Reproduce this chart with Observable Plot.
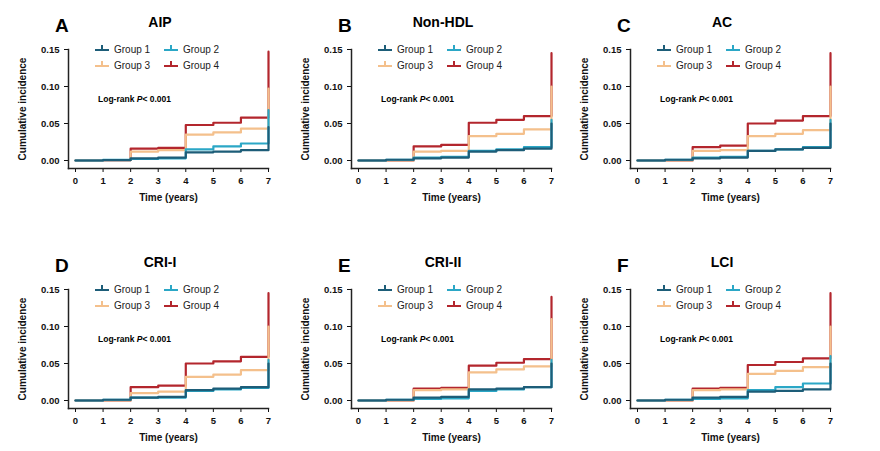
<!DOCTYPE html>
<html><head><meta charset="utf-8">
<script src="https://cdn.jsdelivr.net/npm/d3@7"></script>
<script src="https://cdn.jsdelivr.net/npm/@observablehq/plot@0.6"></script>
<style>
body{margin:0;background:#fff;font-family:"Liberation Sans",Arial,sans-serif;}
#root{position:relative;width:880px;height:451px;}
.panel{position:absolute;width:290px;height:210px;}
.lab{position:absolute;font-weight:bold;}
</style></head><body><div id="root"></div>
<script>
const times = [0,1,2,3,4,5,6,7];
const groups = ["Group 1","Group 2","Group 3","Group 4"];
const colors = ["#1d5d78","#2ba7c6","#f4c08c","#b3262d"];
const letters = ["A","B","C","D","E","F"];
const titles = ["AIP","Non-HDL","AC","CRI-I","CRI-II","LCI"];
const yTicks = [0,0.05,0.10,0.15];
const xTicks = [0,1,2,3,4,5,6,7];
// values on intervals [t,t+1) for t=0..6, then value reached at t=7
const pA = [[0,0.0005,0.003,0.004,0.011,0.012,0.014,0.045],[0,0.001,0.002,0.003,0.015,0.019,0.023,0.068],[0,0.0005,0.012,0.014,0.035,0.038,0.043,0.097],[0,0.0005,0.016,0.017,0.048,0.051,0.058,0.147]];
const pB = [[0,0.001,0.003,0.004,0.012,0.014,0.016,0.05],[0,0.001,0.004,0.005,0.013,0.015,0.018,0.055],[0,0,0.012,0.013,0.033,0.036,0.042,0.1],[0,0,0.019,0.021,0.051,0.055,0.06,0.145]];
const pC = [[0,0.001,0.003,0.004,0.013,0.015,0.017,0.05],[0,0.001,0.004,0.005,0.013,0.015,0.018,0.055],[0,0,0.013,0.014,0.033,0.036,0.041,0.1],[0,0,0.018,0.02,0.05,0.054,0.06,0.145]];
const pD = [[0,0.001,0.004,0.005,0.014,0.016,0.018,0.05],[0,0.001,0.004,0.004,0.013,0.015,0.017,0.055],[0,0,0.01,0.012,0.032,0.035,0.041,0.1],[0,0,0.018,0.02,0.05,0.053,0.059,0.145]];
const pE = [[0,0.001,0.004,0.005,0.015,0.016,0.018,0.05],[0,0.001,0.002,0.003,0.013,0.015,0.018,0.055],[0,0,0.014,0.015,0.038,0.042,0.046,0.11],[0,0,0.016,0.017,0.047,0.051,0.056,0.14]];
const pF = [[0,0.001,0.004,0.005,0.012,0.013,0.015,0.05],[0,0.001,0.002,0.003,0.014,0.018,0.023,0.06],[0,0,0.014,0.015,0.036,0.04,0.045,0.1],[0,0,0.016,0.017,0.048,0.052,0.057,0.145]];
const panels = [pA,pB,pC,pD,pE,pF];
const offX = [0,283,562], offY = [0,240];

const root = document.getElementById("root");
panels.forEach((P,pi)=>{
  const ox = offX[pi%3], oy = offY[Math.floor(pi/3)];
  const div = document.createElement("div");
  div.className="panel"; div.style.left=ox+"px"; div.style.top=oy+"px";
  root.appendChild(div);
  const rows=[];
  for(let gi=3;gi>=0;gi--){
    const vals=P[gi];
    times.forEach((t,i)=>{ if(i<7) rows.push({g:groups[gi],t,v:vals[i]}); });
    rows.push({g:groups[gi],t:7,v:vals[6]});
    rows.push({g:groups[gi],t:7,v:vals[7]});
  }
  const chart = Plot.plot({
    width:290,height:205,marginLeft:68,marginRight:22,marginTop:49,marginBottom:37,
    insetLeft:7,insetBottom:8,
    x:{domain:[0,7],ticks:xTicks,tickFormat:d3.format("d"),label:"Time (years)",labelArrow:"none",labelAnchor:"center",labelOffset:32,tickSize:4},
    y:{domain:[0,0.15],ticks:yTicks,tickFormat:d3.format(".2f"),label:"Cumulative incidence",labelArrow:"none",labelAnchor:"center",labelOffset:50,tickSize:4},
    color:{domain:groups,range:colors},
    style:{fontFamily:"Liberation Sans, Arial, sans-serif",fontSize:"9.5px",fontWeight:"bold",color:"#111"},
    marks:[
      Plot.frame({anchor:"left",stroke:"#222",strokeWidth:1.5}),
      Plot.frame({anchor:"bottom",stroke:"#222",strokeWidth:1.5}),
      Plot.line(rows,{x:"t",y:"v",z:"g",stroke:"g",curve:"step-after",strokeWidth:2.2})
    ]
  });
  chart.querySelectorAll("text").forEach(t=>{ if(/Time|Cumulative/.test(t.textContent)){ t.textContent=t.textContent.replace(/[↑→]/g,"").trim(); t.style.fontSize="10px"; } });
  div.appendChild(chart);
  const add=(txt,l,t,size,extra)=>{const e=document.createElement("div");e.className="lab";e.style.left=l+"px";e.style.top=t+"px";e.style.fontSize=size+"px";e.innerHTML=txt;if(extra)Object.assign(e.style,extra);div.appendChild(e);};
  add(letters[pi],55,15,19);
  add(titles[pi],0,14,14,{width:"320px",textAlign:"center"});
  add("Log-rank <i>P</i>&lt; 0.001",98,94,8.5);
  groups.forEach((g,gi)=>{
    const lx = gi%2===0?95:164, ly = gi<2?44:60;
    const s=document.createElement("div");
    s.style.cssText=`position:absolute;left:${lx}px;top:${ly+5}px;width:14px;height:2px;background:${colors[gi]}`;
    div.appendChild(s);
    const tk=document.createElement("div");
    tk.style.cssText=`position:absolute;left:${lx+6}px;top:${ly+1}px;width:2px;height:5px;background:${colors[gi]}`;
    div.appendChild(tk);
    const e=document.createElement("div");
    e.style.cssText=`position:absolute;left:${lx+19}px;top:${ly}px;font-size:10px;color:#222`;
    e.textContent=g; div.appendChild(e);
  });
});
</script></body></html>
